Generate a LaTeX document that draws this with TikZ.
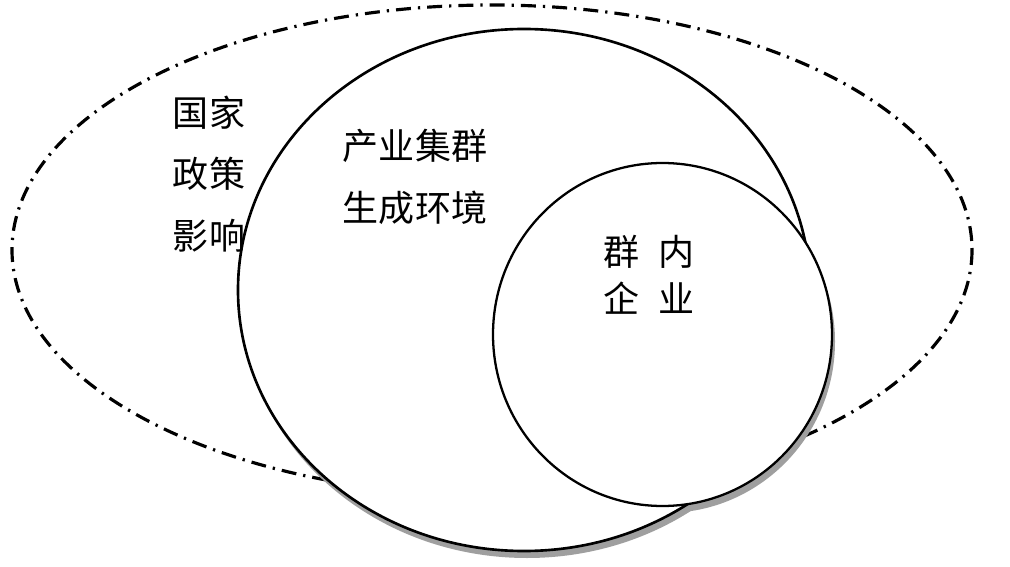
\documentclass[tikz,border=0pt]{standalone}
\usepackage{fontspec}
\newfontfamily\cjk{Noto Sans CJK SC}
\usetikzlibrary{positioning}

\begin{document}
\begin{tikzpicture}[x=0.02cm,y=-0.02cm,
  txt/.style={font=\cjk\fontsize{20.5}{35}\selectfont,align=center,inner sep=0pt},
  ring/.style={line width=1.5pt,fill=white}]
\useasboundingbox (0,0) rectangle (1010,567);
% outer dash-dot ellipse
\draw[line width=1.8pt,dash pattern=on 8.5pt off 4pt on 1.3pt off 4pt] (492,250) ellipse [x radius=480,y radius=245];
% shadow of the cluster ring and firm circle
\fill[gray!75] (527,297) ellipse [x radius=286,y radius=261];
\fill[gray!75] (665.5,341.5) ellipse [x radius=169.5,y radius=171.5];
% cluster ring, then firm circle over it
\draw[ring] (524,290) ellipse [x radius=286,y radius=261];
\draw[ring,line width=1.3pt] (662.5,334.5) ellipse [x radius=169.5,y radius=171.5];
\node[txt] (policy) at (209,174) {国家\\政策\\影响};
\node[txt] (env) at (415,177) {产业集群\\生成环境};
\node[txt,font=\cjk\fontsize{20.5}{27}\selectfont] (firm) at (649,275) {群\hspace{0.5em}内\\企\hspace{0.5em}业};
\end{tikzpicture}
\end{document}
